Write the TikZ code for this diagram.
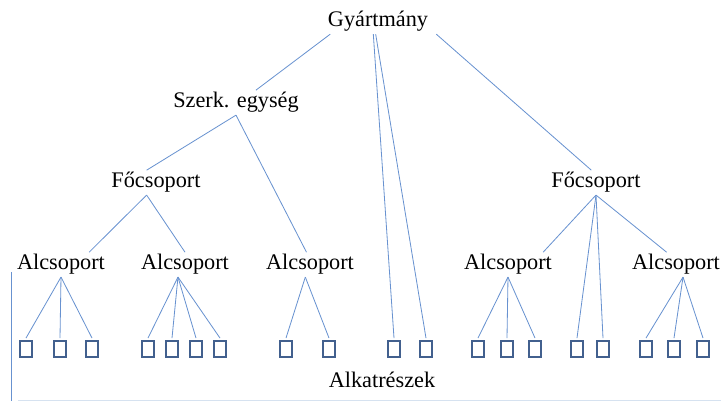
\documentclass[tikz,border=0pt]{standalone}
\usepackage{fontspec}
\setmainfont{Liberation Serif}
\definecolor{linkblue}{RGB}{104,146,208}
\definecolor{boxblue}{RGB}{66,96,142}
\definecolor{edgeblue}{RGB}{214,226,240}
\begin{document}
\begin{tikzpicture}[x=0.03cm, y=-0.03cm,
    lbl/.style={anchor=base, inner sep=0pt, outer sep=2pt, font=\fontsize{19}{23}\selectfont},
    part/.style={draw=boxblue, line width=1.6pt, minimum width=0.375cm, minimum height=0.48cm, inner sep=0pt, outer sep=2.5pt},
    link/.style={draw=linkblue, line width=0.7pt}]
    \useasboundingbox (0,0) rectangle (721,401);
    % level 1
    \node[lbl] (gy) at (378,27) {Gyártmány};
    \node[lbl] (sz) at (236,108) {Szerk. egység};
    % level 2
    \node[lbl] (fo1) at (156,188) {Főcsoport};
    \node[lbl] (fo2) at (596,188) {Főcsoport};
    % level 3
    \foreach \x [count=\i] in {61,185,310,508,676}{
        \node[lbl] (al\i) at (\x,270) {Alcsoport};
    }
    % parts
    \foreach \x [count=\i] in {26,60,92,148,172,196,220,286,329,394,426,478,507,535,577,603,646,674,703}{
        \node[part] (b\i) at (\x,349) {};
    }
    \node[lbl] (alk) at (382,387) {Alkatrészek};
    % links
    \draw[link] ([xshift=4]gy.south west) -- ([xshift=17]sz.north);
    \draw[link] ([xshift=5]gy.south east) -- ([xshift=-4]fo2.north);
    \draw[link] ([xshift=-4]gy.south) -- (b10.north);
    \draw[link] ([xshift=-2]gy.south) -- (b11.north);
    \draw[link] (sz.south) -- ([xshift=-8]fo1.north);
    \draw[link] (sz.south) -- ([xshift=-3]al3.north);
    \draw[link] ([xshift=-8]fo1.south) -- ([xshift=24]al1.north);
    \draw[link] ([xshift=-8]fo1.south) -- (al2.north);
    \draw[link] (fo2.south) -- ([xshift=30]al4.north);
    \draw[link] (fo2.south) -- ([xshift=-8]al5.north);
    \draw[link] (fo2.south) -- (b15.north);
    \draw[link] (fo2.south) -- (b16.north);
    \foreach \i in {1,2,3}{\draw[link] (al1.south) -- (b\i.north);}
    \foreach \i in {4,...,7}{\draw[link] ([xshift=-6]al2.south) -- (b\i.north);}
    \foreach \i in {8,9}{\draw[link] ([xshift=-4]al3.south) -- (b\i.north);}
    \foreach \i in {12,13,14}{\draw[link] (al4.south) -- (b\i.north);}
    \foreach \i in {17,18,19}{\draw[link] ([xshift=6]al5.south) -- (b\i.north);}
    % frame
    \draw[link] (11,272) -- (11,401);
    \draw[edgeblue, line width=0.8pt] (18,400) -- (721,400);
\end{tikzpicture}
\end{document}
